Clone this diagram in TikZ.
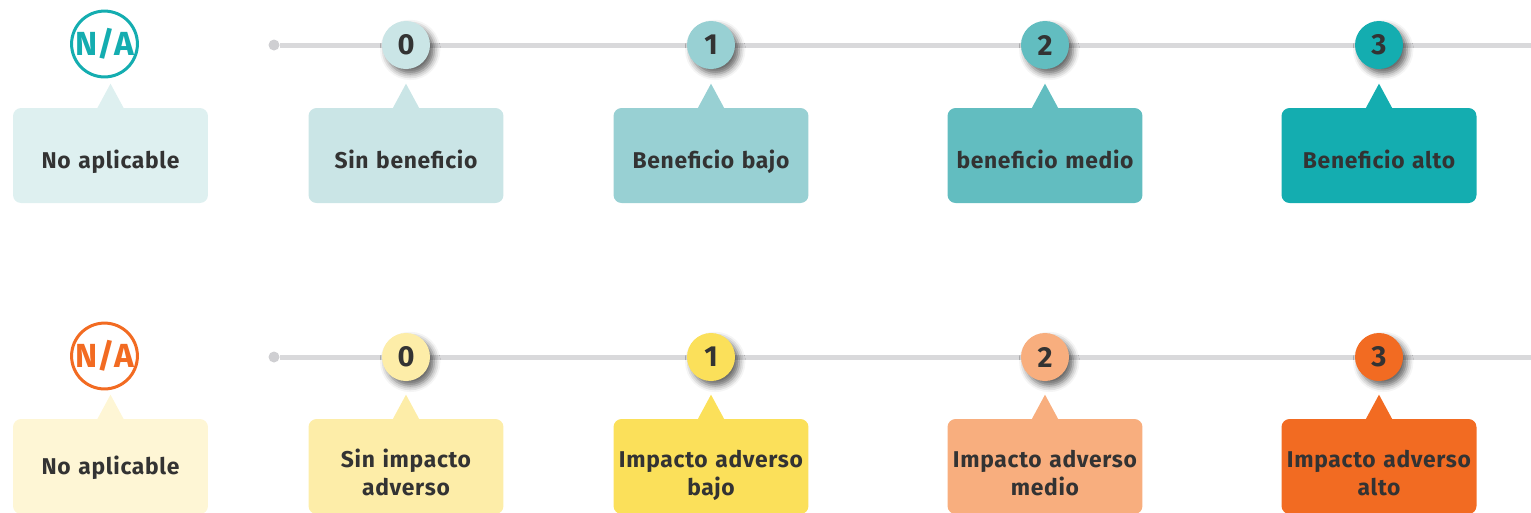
\documentclass[tikz,border=0pt]{standalone}
\usepackage{fontspec}
\setmainfont{Fira Sans}
\newfontfamily\cardfont{Fira Sans}[LetterSpace=3]
\usetikzlibrary{calc,shadows.blur}

\definecolor{inkgray}{HTML}{333333}
\definecolor{trackgray}{HTML}{D9D9DB}
\definecolor{dotgray}{HTML}{CFCFD2}
% benefit scale
\definecolor{benNA}{HTML}{DEF0F0}
\definecolor{benA}{HTML}{CAE5E6}
\definecolor{benB}{HTML}{98D0D3}
\definecolor{benC}{HTML}{62BDC0}
\definecolor{benD}{HTML}{14ADB0}
% adverse impact scale
\definecolor{advNA}{HTML}{FEF6D5}
\definecolor{advA}{HTML}{FDEDA8}
\definecolor{advB}{HTML}{FBE05A}
\definecolor{advC}{HTML}{F8AE7E}
\definecolor{advD}{HTML}{F26B22}

\tikzset{
  track/.style={draw=trackgray,line width=0.1cm},
  trackdot/.style={circle,fill=dotgray,inner sep=0pt,minimum size=0.22cm},
  level/.style={circle,inner sep=0pt,minimum size=0.96cm,text=inkgray,
    font=\bfseries\fontsize{16.5}{18}\selectfont,
    blur shadow={shadow xshift=2.4pt,shadow yshift=-2.8pt,shadow opacity=60,shadow blur radius=3.5pt}},
  natag/.style={circle,draw,line width=0.06cm,fill=white,inner sep=0pt,minimum size=1.22cm,
    font=\bfseries\fontsize{19}{20}\selectfont},
  card/.style={rounded corners=0.16cm,minimum width=3.9cm,minimum height=1.9cm,inner sep=0pt},
  cardtext/.style={inner sep=0pt,text width=3.8cm,align=center,text=inkgray,
    font=\cardfont\bfseries\fontsize{13}{16}\selectfont,
    execute at begin node=\strut,execute at end node=\strut},
}

\begin{document}
\begin{tikzpicture}[x=0.02cm,y=-0.02cm]
\useasboundingbox (0,0) rectangle (1531,512);

% top row: benefit
\node[natag,draw=benD,text=benD] (naA) at (104.5,44) {N/A};
\node[card,fill=benNA] (cnaA) at (110.5,155.5) {};
\fill[benNA] ($(cnaA.north)+(-13.5,1)$) -- ($(cnaA.north)+(0,-24)$) -- ($(cnaA.north)+(13.5,1)$) -- cycle;
\node[cardtext] (tnaA) at (110.5,162.4) {No aplicable};
\node[trackdot] (dotA) at (274,45) {};
\coordinate (endA) at (1531,45);
\draw[track] (dotA) -- (endA);
\foreach \i/\x/\col/\txt in {0/406/benA/Sin beneficio,1/711/benB/Beneficio bajo,
    2/1045/benC/beneficio medio,3/1379/benD/Beneficio alto}{
  \node[level,fill=\col] (a\i) at (\x,45) {\i};
  \node[card,fill=\col] (ca\i) at (\x,155.5) {};
  \fill[\col] ($(ca\i.north)+(-13.5,1)$) -- ($(ca\i.north)+(0,-24)$) -- ($(ca\i.north)+(13.5,1)$) -- cycle;
  \node[cardtext] (ta\i) at (\x,162.4) {\txt};
}

% bottom row: adverse impact
\node[natag,draw=advD,text=advD] (naB) at (104.5,356) {N/A};
\node[card,fill=advNA] (cnaB) at (110.5,466.5) {};
\fill[advNA] ($(cnaB.north)+(-13.5,1)$) -- ($(cnaB.north)+(0,-24)$) -- ($(cnaB.north)+(13.5,1)$) -- cycle;
\node[cardtext] (tnaB) at (110.5,468.4) {No aplicable};
\node[trackdot] (dotB) at (274,357) {};
\coordinate (endB) at (1531,357);
\draw[track] (dotB) -- (endB);
\foreach \i/\x/\col/\txt in {0/406/advA/Sin impacto\\adverso,1/711/advB/Impacto adverso\\bajo,
    2/1045/advC/Impacto adverso\\medio,3/1379/advD/Impacto adverso\\alto}{
  \node[level,fill=\col] (b\i) at (\x,357) {\i};
  \node[card,fill=\col] (cb\i) at (\x,466.5) {};
  \fill[\col] ($(cb\i.north)+(-13.5,1)$) -- ($(cb\i.north)+(0,-24)$) -- ($(cb\i.north)+(13.5,1)$) -- cycle;
  \node[cardtext] (tb\i) at (\x,475.5) {\txt};
}
\end{tikzpicture}
\end{document}
